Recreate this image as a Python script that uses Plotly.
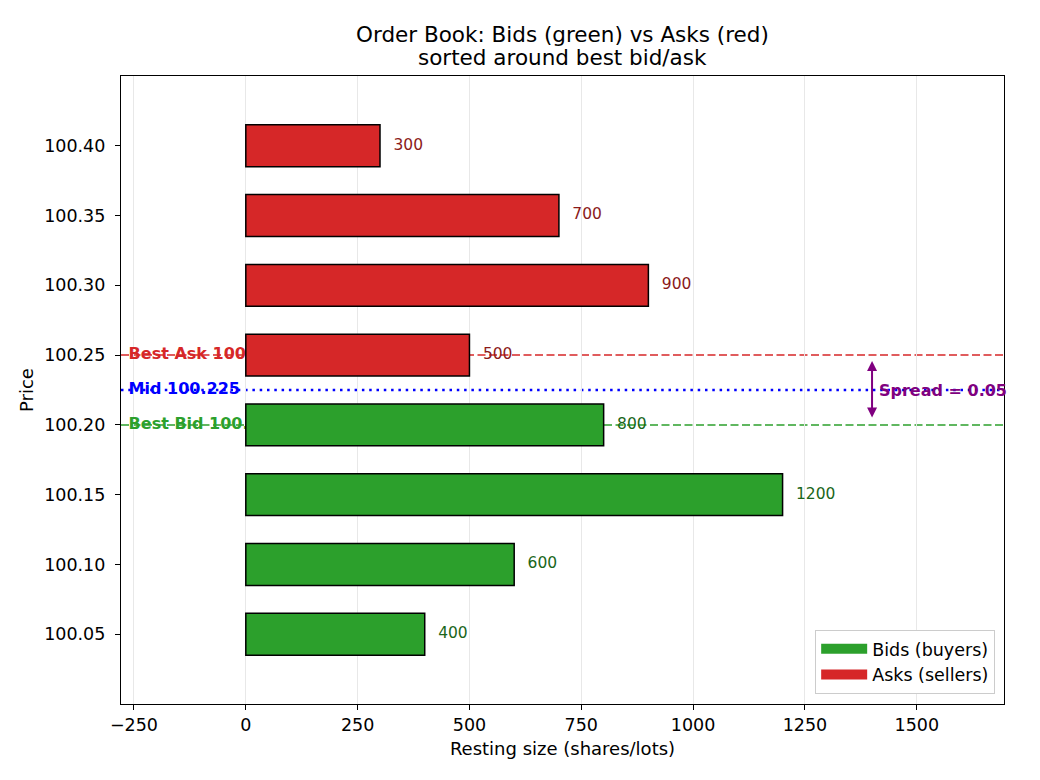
import plotly.graph_objects as go

# ---- data ----
ask_prices = [100.25, 100.30, 100.35, 100.40]
ask_sizes = [500, 900, 700, 300]
bid_prices = [100.20, 100.15, 100.10, 100.05]
bid_sizes = [800, 1200, 600, 400]
price_ticks = [100.05, 100.10, 100.15, 100.20, 100.25, 100.30, 100.35, 100.40]
size_ticks = [-250, 0, 250, 500, 750, 1000, 1250, 1500]

best_bid = max(bid_prices)
best_ask = min(ask_prices)
mid = (best_bid + best_ask) / 2
spread = best_ask - best_bid

XR = [-279, 1695]
YR = [100.0, 100.45]
label_off = 30
left_label_x = -262
spread_x = 1400

GREEN = "#2ca02c"
RED = "#d62728"
PURPLE = "#800080"
FONT = "DejaVu Sans"

fig = go.Figure()

# ---- labels on main axes (drawn beneath the bars) ----
fig.add_trace(go.Scatter(
    x=[left_label_x, left_label_x, left_label_x],
    y=[best_ask, mid, best_bid],
    mode="text",
    text=[f"<b>Best Ask {best_ask:.2f}</b>", f"<b>Mid {mid:.3f}</b>", f"<b>Best Bid {best_bid:.2f}</b>"],
    textposition="middle right",
    textfont=dict(family=FONT, size=16, color=[RED, "blue", GREEN]),
    showlegend=False, hoverinfo="skip",
    xaxis="x", yaxis="y",
))

# ---- bars on overlay axes ----
fig.add_trace(go.Bar(
    x=bid_sizes, y=bid_prices, orientation="h", width=0.03,
    marker=dict(color=GREEN, line=dict(color="black", width=1.5)),
    name="Bids (buyers)", showlegend=False,
    xaxis="x2", yaxis="y2",
))
fig.add_trace(go.Bar(
    x=ask_sizes, y=ask_prices, orientation="h", width=0.03,
    marker=dict(color=RED, line=dict(color="black", width=1.5)),
    name="Asks (sellers)", showlegend=False,
    xaxis="x2", yaxis="y2",
))

# ---- value labels ----
fig.add_trace(go.Scatter(
    x=[s + label_off for s in bid_sizes], y=bid_prices, mode="text",
    text=[str(s) for s in bid_sizes], textposition="middle right",
    textfont=dict(family=FONT, size=15.5, color="#1a661a"),
    showlegend=False, hoverinfo="skip", xaxis="x2", yaxis="y2",
))
fig.add_trace(go.Scatter(
    x=[s + label_off for s in ask_sizes], y=ask_prices, mode="text",
    text=[str(s) for s in ask_sizes], textposition="middle right",
    textfont=dict(family=FONT, size=15.5, color="#8b1a1a"),
    showlegend=False, hoverinfo="skip", xaxis="x2", yaxis="y2",
))

# ---- legend proxies ----
fig.add_trace(go.Scatter(x=[None], y=[None], mode="lines", name="Bids (buyers)",
                         line=dict(color=GREEN, width=15), xaxis="x2", yaxis="y2"))
fig.add_trace(go.Scatter(x=[None], y=[None], mode="lines", name="Asks (sellers)",
                         line=dict(color=RED, width=15), xaxis="x2", yaxis="y2"))

# ---- reference lines ----
shapes = [
    dict(type="line", xref="x domain", x0=0, x1=1, yref="y", y0=best_ask, y1=best_ask,
         line=dict(color=RED, width=1.5, dash="8px,3.5px"), layer="below"),
    dict(type="line", xref="x domain", x0=0, x1=1, yref="y", y0=best_bid, y1=best_bid,
         line=dict(color=GREEN, width=1.5, dash="8px,3.5px"), layer="below"),
    dict(type="line", xref="x domain", x0=0, x1=1, yref="y", y0=mid, y1=mid,
         line=dict(color="blue", width=2.5, dash="2.5px,4.8px"), layer="below"),
]

annotations = [
    dict(x=spread_x, y=best_ask, ax=spread_x, ay=best_bid, xref="x", yref="y",
         axref="x", ayref="y", text="", showarrow=True, arrowside="end+start",
         arrowhead=2, startarrowhead=2, arrowsize=1, startarrowsize=1,
         arrowwidth=2, arrowcolor=PURPLE, standoff=6, startstandoff=6),
    dict(x=spread_x + 12, y=mid, xref="x", yref="y", text=f"<b>Spread = {spread:.2f}</b>",
         showarrow=False, xanchor="left", yanchor="middle",
         font=dict(family=FONT, size=16, color=PURPLE)),
    dict(x=0.5, y=(704 - 35) / 628, xref="paper", yref="paper",
         text="Order Book: Bids (green) vs Asks (red)", showarrow=False,
         xanchor="center", yanchor="middle", font=dict(family=FONT, size=21.5, color="black")),
    dict(x=0.5, y=(704 - 57.5) / 628, xref="paper", yref="paper",
         text="sorted around best bid/ask", showarrow=False,
         xanchor="center", yanchor="middle", font=dict(family=FONT, size=21.5, color="black")),
]

axis_common = dict(showline=True, mirror=True, linecolor="black", linewidth=1.2,
                   ticks="outside", ticklen=5, tickwidth=1.2, tickcolor="black",
                   tickfont=dict(family=FONT, size=17.5, color="black"), zeroline=False)

fig.update_layout(
    width=1040, height=780,
    margin=dict(l=121, r=36, t=76, b=76),
    paper_bgcolor="white", plot_bgcolor="white",
    font=dict(family=FONT, color="black"),
    xaxis=dict(range=XR, tickvals=size_ticks, showgrid=True, gridcolor="#e8e8e8", gridwidth=1,
               title=dict(text="Resting size (shares/lots)", font=dict(family=FONT, size=18), standoff=8),
               **axis_common),
    yaxis=dict(range=YR, tickvals=price_ticks, ticktext=[f"{p:.2f}" for p in price_ticks],
               showgrid=False, ticklabelstandoff=6,
               title=dict(text="Price", font=dict(family=FONT, size=18), standoff=5),
               **axis_common),
    xaxis2=dict(range=XR, overlaying="x", visible=False),
    yaxis2=dict(range=YR, overlaying="y", visible=False),
    shapes=shapes,
    annotations=annotations,
    showlegend=True,
    legend=dict(x=0.99, y=0.016, xanchor="right", yanchor="bottom",
                bgcolor="white", bordercolor="#cccccc", borderwidth=1,
                font=dict(family=FONT, size=17.5, color="black"),
                itemwidth=46, traceorder="normal"),
    barmode="overlay",
)

fig.write_html("out.html")
